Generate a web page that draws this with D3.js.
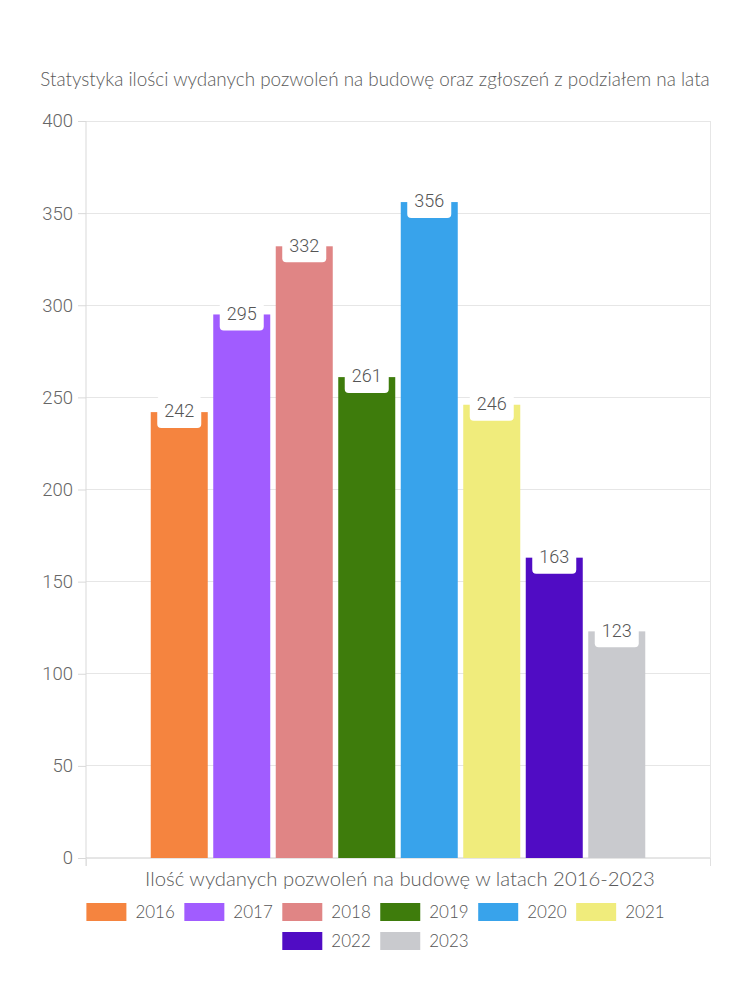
<!DOCTYPE html>
<html><head><meta charset="utf-8">
<script src="https://cdn.jsdelivr.net/npm/d3@7"></script>
<style>body{margin:0;background:#fff;} svg{display:block;}</style>
</head><body>
<svg id="c" width="750" height="1000"></svg>
<script>
const years = ["2016","2017","2018","2019","2020","2021","2022","2023"];
const values = [242, 295, 332, 261, 356, 246, 163, 123];
const colors = ["#F5843F","#A15CFF","#E08585","#3E7C0C","#38A3EB","#F0EC7C","#500CC4","#C9CACE"];
const yTicks = [0,50,100,150,200,250,300,350,400];
const title = "Statystyka ilości wydanych pozwoleń na budowę oraz zgłoszeń z podziałem na lata";
const xTitle = "Ilość wydanych pozwoleń na budowę w latach 2016-2023";
const group = ["all"];

const svg = d3.select("#c");
const L = 86, R = 710, T = 121, B = 858;
const roundFont = "Lato, 'Open Sans', sans-serif";
const labelFont = "Roboto, 'Liberation Sans', Arial, sans-serif";

const y = d3.scaleLinear().domain([0,400]).range([B,T]);
const x0 = d3.scaleBand().domain(group).range([L,R]).paddingInner(0.2).paddingOuter(0.1);
const x1 = d3.scaleBand().domain(years).range([0,x0.bandwidth()]).paddingInner(0.088).paddingOuter(0.0375);

// gridlines
svg.append("g").selectAll("line").data(yTicks.filter(d=>d>0)).join("line")
  .attr("x1",L).attr("x2",R).attr("y1",d=>y(d)).attr("y2",d=>y(d))
  .attr("stroke","#e6e6e6").attr("stroke-width",1).attr("shape-rendering","crispEdges");
// right border
svg.append("line").attr("x1",R).attr("x2",R).attr("y1",T).attr("y2",B+8)
  .attr("stroke","#e6e6e6").attr("shape-rendering","crispEdges");

// y axis
const ya = svg.append("g").attr("transform",`translate(${L},0)`)
  .call(d3.axisLeft(y).tickValues(yTicks).tickSize(8).tickPadding(5));
ya.select(".domain").attr("stroke","#d9d9d9").attr("d",`M0,${T}V${B+8}`);
ya.selectAll(".tick line").attr("stroke","#d9d9d9");
ya.selectAll(".tick text").attr("fill","#666").style("font-family",labelFont).style("font-weight","300").style("font-size","18.5px");

// x axis
const xl = d3.scaleLinear().domain([0,1]).range([L,R]);
const xa = svg.append("g").attr("transform",`translate(0,${B})`)
  .call(d3.axisBottom(xl).tickValues([0,1]).tickFormat("").tickSize(8));
xa.select(".domain").attr("stroke","#ccc").attr("d",`M${L},0H${R}`);
xa.selectAll(".tick line").attr("stroke","#e0e0e0");

// bars
const g = svg.append("g").attr("transform",`translate(${x0("all")},0)`);
const data = years.map((yr,i)=>({yr, v:values[i], c:colors[i]}));
g.selectAll("rect.bar").data(data).join("rect").attr("class","bar")
  .attr("x",d=>x1(d.yr)).attr("width",x1.bandwidth())
  .attr("y",d=>y(d.v)).attr("height",d=>B-y(d.v)).attr("fill",d=>d.c);

// labels
const lab = g.selectAll("g.lab").data(data).join("g").attr("class","lab")
  .attr("transform",d=>`translate(${x1(d.yr)+x1.bandwidth()/2},${y(d.v)})`);
lab.append("rect").attr("x",-22).attr("y",-16).attr("width",44).attr("height",32).attr("rx",4).attr("fill","#fff");
lab.append("text").attr("text-anchor","middle").attr("dy","0.35em").attr("y",-1)
  .attr("fill","#555").style("font-family",labelFont).style("font-weight","300").style("font-size","18px").text(d=>d.v);

// fit helper
function fit(sel, target){
  const w = sel.node().getComputedTextLength();
  const fs = parseFloat(sel.style("font-size"));
  sel.style("font-size",(fs*target/w)+"px");
}
const t = svg.append("text").attr("x",375).attr("y",86).attr("text-anchor","middle")
  .attr("fill","#5a5a5a").style("font-family",roundFont).style("font-weight","300").style("font-size","16px").text(title);
fit(t, 670);
const xt = svg.append("text").attr("x",400).attr("y",886).attr("text-anchor","middle")
  .attr("fill","#5a5a5a").style("font-family",roundFont).style("font-weight","300").style("font-size","17px").text(xTitle);
fit(xt, 510);

// legend
const rows = [years.slice(0,6), years.slice(6)];
const legY = [903, 932];
rows.forEach((row,ri)=>{
  const lg = svg.append("g");
  let xpos = 0;
  row.forEach(yr=>{
    const i = years.indexOf(yr);
    const it = lg.append("g").attr("transform",`translate(${xpos},0)`);
    it.append("rect").attr("width",40).attr("height",18).attr("fill",colors[i]);
    const tx = it.append("text").attr("x",49).attr("y",9).attr("dy","0.35em")
      .attr("fill","#555").style("font-family",roundFont).style("font-weight","300").style("font-size","17px").text(yr);
    xpos += 49 + tx.node().getComputedTextLength() + 9.5;
  });
  const total = xpos - 9.5;
  lg.attr("transform",`translate(${375.5 - total/2},${legY[ri]})`);
});
</script>
</body></html>
